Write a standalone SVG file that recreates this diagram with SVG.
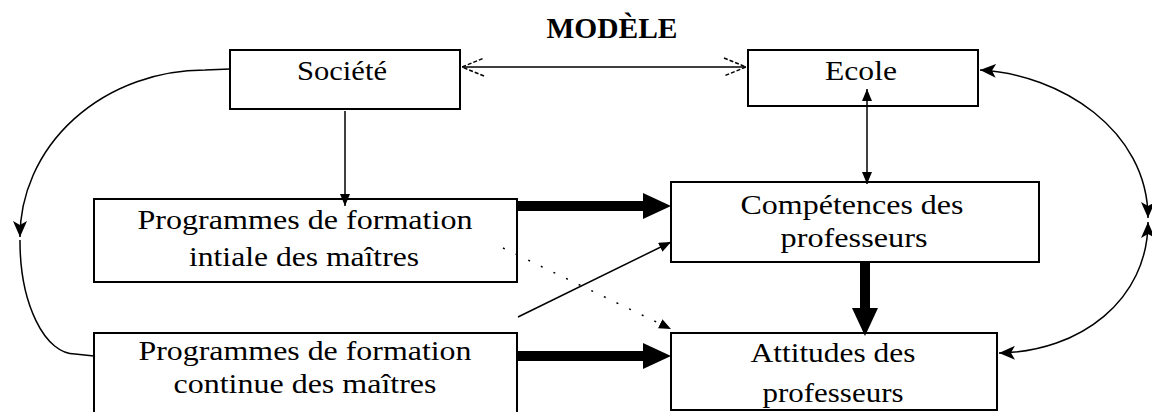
<svg xmlns="http://www.w3.org/2000/svg" width="1152" height="412" viewBox="0 0 1152 412">
<style>
.box{fill:#fff;stroke:#000;stroke-width:2}
.t{font-family:"Liberation Serif","DejaVu Serif",serif;font-size:27px;fill:#000;text-anchor:middle}
.title{font-family:"Liberation Serif","Times New Roman",serif;font-size:29px;font-weight:bold;fill:#000;text-anchor:middle}
.thin{fill:none;stroke:#000;stroke-width:1.5}
.thick{fill:none;stroke:#000;stroke-width:10}
</style>
<defs>
<marker id="open" markerUnits="userSpaceOnUse" viewBox="0 0 24 20" markerWidth="24" markerHeight="20" refX="23" refY="10" orient="auto-start-reverse">
<path d="M1,1 L23,10 L1,19" fill="none" stroke="#000" stroke-width="1.5" stroke-dasharray="4 2"/>
</marker>
<marker id="small" markerUnits="userSpaceOnUse" viewBox="0 0 12 10" markerWidth="12" markerHeight="10" refX="12" refY="5" orient="auto-start-reverse">
<path d="M0,0 L12,5 L0,10 z" fill="#000"/>
</marker>
<marker id="mid" markerUnits="userSpaceOnUse" viewBox="0 0 16 14" markerWidth="16" markerHeight="14" refX="16" refY="7" orient="auto-start-reverse">
<path d="M0,0 L16,7 L0,14 L4,7 z" fill="#000"/>
</marker>
<marker id="big" markerUnits="userSpaceOnUse" viewBox="0 0 28 26" markerWidth="28" markerHeight="26" refX="0" refY="13" orient="auto">
<path d="M0,0 L28,13 L0,26 z" fill="#000"/>
</marker>
</defs>
<text class="title" x="612" y="38" textLength="131" lengthAdjust="spacingAndGlyphs">MODÈLE</text>
<g id="societe">
<rect class="box" x="230" y="50" width="230" height="59"/>
<text class="t" x="342" y="80" textLength="90" lengthAdjust="spacingAndGlyphs">Société</text>
</g>
<g id="ecole">
<rect class="box" x="748" y="50" width="230" height="56"/>
<text class="t" x="861" y="80" textLength="72" lengthAdjust="spacingAndGlyphs">Ecole</text>
</g>
<g id="initiale">
<rect class="box" x="94" y="199" width="423" height="83"/>
<text class="t" x="305" y="229" textLength="335" lengthAdjust="spacingAndGlyphs">Programmes de formation</text>
<text class="t" x="304" y="266" textLength="230" lengthAdjust="spacingAndGlyphs">intiale des maîtres</text>
</g>
<g id="continue">
<rect class="box" x="94" y="333" width="423" height="90"/>
<text class="t" x="305" y="360" textLength="333" lengthAdjust="spacingAndGlyphs">Programmes de formation</text>
<text class="t" x="305" y="393" textLength="263" lengthAdjust="spacingAndGlyphs">continue des maîtres</text>
</g>
<g id="competences">
<rect class="box" x="671" y="182" width="368" height="80"/>
<text class="t" x="852" y="214" textLength="223" lengthAdjust="spacingAndGlyphs">Compétences des</text>
<text class="t" x="854" y="247" textLength="147" lengthAdjust="spacingAndGlyphs">professeurs</text>
</g>
<g id="attitudes">
<rect class="box" x="671" y="333" width="326" height="77"/>
<text class="t" x="833" y="362" textLength="165" lengthAdjust="spacingAndGlyphs">Attitudes des</text>
<text class="t" x="833" y="402" textLength="141" lengthAdjust="spacingAndGlyphs">professeurs</text>
</g>
<g id="connectors">
<line class="thin" x1="462" y1="67" x2="746" y2="67" marker-start="url(#open)" marker-end="url(#open)"/>
<line class="thin" x1="345" y1="111" x2="345" y2="206" marker-end="url(#small)"/>
<line class="thin" x1="867" y1="89" x2="867" y2="184" marker-start="url(#small)" marker-end="url(#small)"/>
<line class="thick" x1="518" y1="206" x2="643" y2="206" marker-end="url(#big)"/>
<line class="thick" x1="518" y1="356" x2="643" y2="356" marker-end="url(#big)"/>
<line class="thick" x1="865" y1="263" x2="865" y2="308" marker-end="url(#big)"/>
<line class="thin" x1="518" y1="317" x2="671" y2="242" marker-end="url(#small)"/>
<line class="thin" x1="503" y1="248" x2="671" y2="329" stroke-dasharray="2 12" marker-end="url(#small)"/>
<path class="thin" d="M230,69 L205,70 A185,167 0 0 0 20,237" marker-end="url(#mid)"/>
<path class="thin" d="M20,240 A55,113 0 0 0 75,354 L94,356"/>
<path class="thin" d="M980,70 C1060,74 1148,130 1148,218" marker-start="url(#mid)" marker-end="url(#mid)"/>
<path class="thin" d="M999,353 C1080,352 1148,300 1148,222" marker-start="url(#mid)" marker-end="url(#mid)"/>
</g>
</svg>
